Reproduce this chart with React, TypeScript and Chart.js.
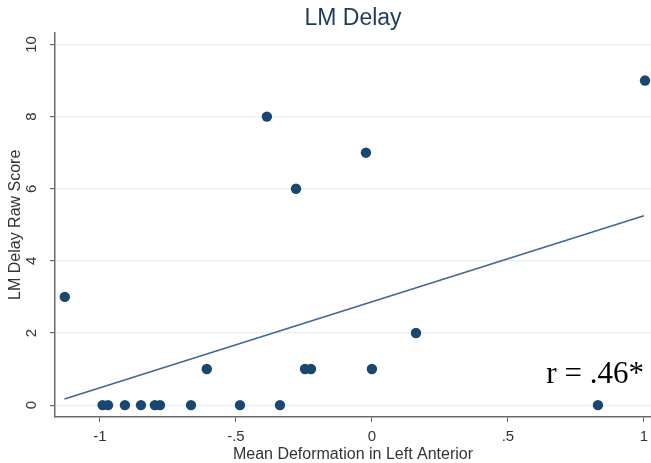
import React, { useEffect, useRef } from "react";
import { Chart, registerables } from "chart.js";

Chart.register(...registerables);

const chartTitle = "LM Delay";
const xAxisTitle = "Mean Deformation in Left Anterior";
const yAxisTitle = "LM Delay Raw Score";
const annotationText = "r = .46*";

const deformation = [
  -1.129, -0.99, -0.97, -0.908, -0.849, -0.798, -0.779, -0.665, -0.607, -0.485,
  -0.386, -0.338, -0.279, -0.246, -0.224, -0.022, 0.0, 0.162, 0.831, 1.004,
];
const rawScore = [3, 0, 0, 0, 0, 0, 0, 0, 1, 0, 8, 0, 6, 1, 1, 7, 1, 2, 0, 9];

const fitX = [-1.13, 1.0];
const fitY = [0.17, 5.25];

const xTickValues = [-1, -0.5, 0, 0.5, 1];
const yTickValues = [0, 2, 4, 6, 8, 10];

const annotationAt = { x: 1.0, y: 0.6 };

const fmt = (v: number) => {
  if (v === 0) return "0";
  return String(v).replace("0.", ".");
};

const annotationPlugin = {
  id: "rAnnotation",
  afterDatasetsDraw(chart: any) {
    const { ctx, scales } = chart;
    const x = scales.x.getPixelForValue(annotationAt.x);
    const y = scales.y.getPixelForValue(annotationAt.y);
    ctx.save();
    ctx.font = "31px 'Liberation Serif', 'Times New Roman', serif";
    ctx.textAlign = "right";
    ctx.textBaseline = "alphabetic";
    ctx.fillStyle = "#000000";
    ctx.fillText(annotationText, x, y);
    ctx.restore();
  },
};

export default function App() {
  const canvasRef = useRef<HTMLCanvasElement | null>(null);

  useEffect(() => {
    if (!canvasRef.current) return;
    Chart.defaults.font.family = "'Liberation Sans', Arial, sans-serif";
    const points = deformation.map((x, i) => ({ x, y: rawScore[i] }));
    const fit = fitX.map((x, i) => ({ x, y: fitY[i] }));
    const chart = new Chart(canvasRef.current, {
      type: "scatter",
      data: {
        datasets: [
          {
            label: "fit",
            data: fit,
            showLine: true,
            borderColor: "#3f6894",
            borderWidth: 1.6,
            pointRadius: 0,
            order: 2,
            clip: false,
          },
          {
            label: "points",
            data: points,
            backgroundColor: "#1a476f",
            borderWidth: 0,
            pointRadius: 5.2,
            order: 1,
            clip: false,
          },
        ],
      },
      options: {
        responsive: false,
        animation: false,
        layout: { padding: 0, autoPadding: false },
        plugins: {
          legend: { display: false },
          tooltip: { enabled: false },
          title: {
            display: true,
            text: chartTitle,
            fullSize: false,
            color: "#1e3a5c",
            font: { size: 23, weight: "normal" },
            padding: { top: 5, bottom: 0 },
          },
        },
        scales: {
          x: {
            type: "linear",
            min: -1.165,
            max: 1.026,
            afterBuildTicks: (scale: any) => {
              scale.ticks = xTickValues.map((v) => ({ value: v }));
            },
            afterFit: (scale: any) => {
              scale.height = 46;
              scale.paddingLeft = 0;
              scale.paddingRight = 0;
            },
            ticks: {
              callback: (v: any) => fmt(Number(v)),
              color: "#333333",
              font: { size: 15 },
              padding: 6,
              maxRotation: 0,
              minRotation: 0,
            },
            grid: {
              display: true,
              drawOnChartArea: false,
              drawTicks: true,
              tickLength: 5,
              tickColor: "#666666",
            },
            border: { display: true, color: "#6a6a6a", width: 1.5 },
            title: {
              display: true,
              text: xAxisTitle,
              color: "#333333",
              font: { size: 16, lineHeight: 1 },
              padding: { top: 0, bottom: 0 },
            },
          },
          y: {
            type: "linear",
            min: -0.33,
            max: 10.33,
            afterBuildTicks: (scale: any) => {
              scale.ticks = yTickValues.map((v) => ({ value: v }));
            },
            afterFit: (scale: any) => {
              scale.width = 55;
              scale.paddingTop = 0;
              scale.paddingBottom = 0;
            },
            ticks: {
              callback: (v: any) => fmt(Number(v)),
              color: "#333333",
              font: { size: 15 },
              padding: 10,
              minRotation: 90,
              maxRotation: 90,
              crossAlign: "center",
            },
            grid: {
              display: true,
              drawOnChartArea: true,
              color: "#e9eff3",
              lineWidth: 1.2,
              drawTicks: true,
              tickLength: 5,
              tickColor: "#666666",
            },
            border: { display: true, color: "#6a6a6a", width: 1.5 },
            title: {
              display: true,
              text: yAxisTitle,
              color: "#333333",
              font: { size: 16, lineHeight: 1 },
              padding: { top: 8, bottom: 0 },
            },
          },
        },
      },
      plugins: [annotationPlugin],
    } as any);
    return () => chart.destroy();
  }, []);

  return (
    <div style={{ position: "absolute", left: 0, top: 0, width: 651, height: 463, background: "#ffffff" }}>
      <canvas ref={canvasRef} width={651} height={463} style={{ display: "block" }} />
    </div>
  );
}
